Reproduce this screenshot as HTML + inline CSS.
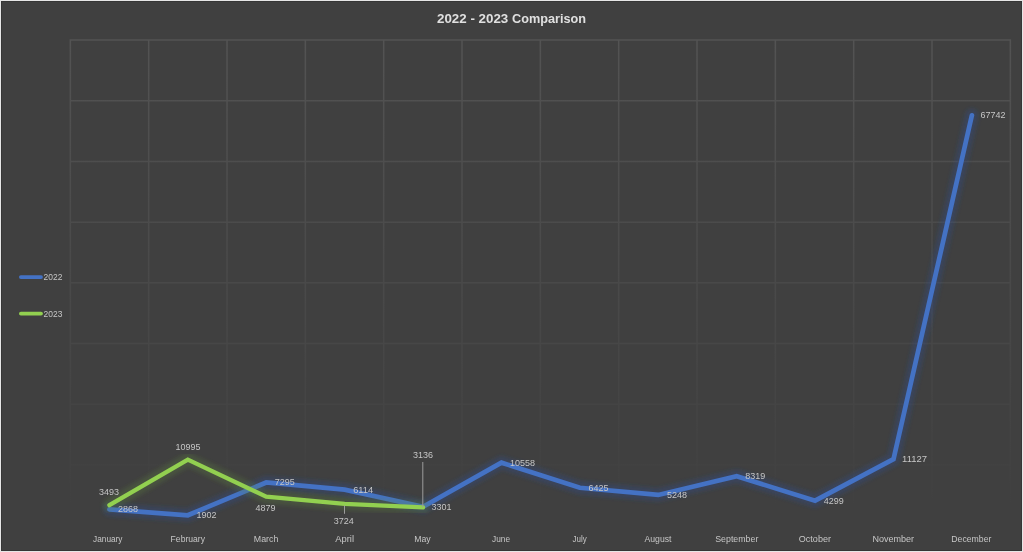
<!DOCTYPE html>
<html><head><meta charset="utf-8"><title>2022 - 2023 Comparison</title>
<style>
html,body{margin:0;padding:0;background:#404040;overflow:hidden}
body{width:1023px;height:552px;font-family:"Liberation Sans",sans-serif}
svg{display:block}
text{font-family:"Liberation Sans",sans-serif}
</style></head><body>
<svg width="1023" height="552" viewBox="0 0 1023 552">
<defs>
<linearGradient id="gv" gradientUnits="userSpaceOnUse" x1="0" y1="39" x2="0" y2="515"><stop offset="0" stop-color="#fff" stop-opacity="0.1"/><stop offset="1" stop-color="#fff" stop-opacity="0"/></linearGradient>
<filter id="bl" x="-10%" y="-10%" width="120%" height="120%" filterUnits="objectBoundingBox"><feGaussianBlur stdDeviation="1.9"/></filter>
</defs>
<rect x="0" y="0" width="1023" height="552" fill="#e6e6e6"/>
<rect x="1" y="1" width="1021" height="550" fill="#363636"/>
<rect x="2" y="2" width="1019" height="548" fill="#404040"/>
<path d="M70.35 40.05V515M148.68 40.05V515M227.02 40.05V515M305.35 40.05V515M383.68 40.05V515M462.01 40.05V515M540.35 40.05V515M618.68 40.05V515M697.01 40.05V515M775.35 40.05V515M853.68 40.05V515M932.01 40.05V515M1010.35 40.05V515M70.35 40.05H1010.35M70.35 100.75H1010.35M70.35 161.45H1010.35M70.35 222.15H1010.35M70.35 282.85H1010.35M70.35 343.55H1010.35M70.35 404.25H1010.35M70.35 464.95H1010.35" fill="none" stroke="url(#gv)" stroke-width="1.50" stroke-linecap="square"/>
<g transform="translate(0,1.3)">
<polyline points="109.40,508.08 187.81,513.95 266.22,481.18 344.63,488.36 423.04,505.45 501.45,461.36 579.86,486.47 658.27,493.62 736.68,474.96 815.09,499.38 893.50,457.90 971.91,113.97" fill="none" stroke="#2a4f96" stroke-opacity="0.32" stroke-width="13" stroke-linecap="round" stroke-linejoin="round" filter="url(#bl)"/>
<polyline points="109.40,508.08 187.81,513.95 266.22,481.18 344.63,488.36 423.04,505.45 501.45,461.36 579.86,486.47 658.27,493.62 736.68,474.96 815.09,499.38 893.50,457.90 971.91,113.97" fill="none" stroke="#4472c4" stroke-width="4.7" stroke-linecap="round" stroke-linejoin="miter"/>
</g>
<g transform="translate(0,0.9)">
<polyline points="109.40,504.28 187.81,458.71 266.22,495.86 344.63,502.88 423.04,506.45" fill="none" stroke="#618a3a" stroke-opacity="0.27" stroke-width="13" stroke-linecap="round" stroke-linejoin="round" filter="url(#bl)"/>
<polyline points="109.40,504.28 187.81,458.71 266.22,495.86 344.63,502.88 423.04,506.45" fill="none" stroke="#92d050" stroke-width="4.3" stroke-linecap="round" stroke-linejoin="miter"/>
</g>
<line x1="344.5" y1="505.5" x2="344.5" y2="513.8" stroke="#9c9c9c" stroke-width="1"/>
<line x1="422.8" y1="462" x2="422.8" y2="507" stroke="#9c9c9c" stroke-width="1"/>
<g opacity="0.999">
<text x="437.0" y="23.0" font-size="13.00" fill="#e0e0e0" text-anchor="start" textLength="71.3" lengthAdjust="spacingAndGlyphs" font-weight="bold">2022 - 2023</text>
<text x="512.0" y="23.0" font-size="13.00" fill="#e0e0e0" text-anchor="start" textLength="74.1" lengthAdjust="spacingAndGlyphs" font-weight="bold">Comparison</text>
<text x="118.0" y="512.3" font-size="9.40" fill="#c6c6c6" text-anchor="start" textLength="20.0" lengthAdjust="spacingAndGlyphs">2868</text>
<text x="196.4" y="518.1" font-size="9.40" fill="#c6c6c6" text-anchor="start" textLength="20.0" lengthAdjust="spacingAndGlyphs">1902</text>
<text x="274.8" y="485.4" font-size="9.40" fill="#c6c6c6" text-anchor="start" textLength="20.0" lengthAdjust="spacingAndGlyphs">7295</text>
<text x="353.2" y="492.6" font-size="9.40" fill="#c6c6c6" text-anchor="start" textLength="20.0" lengthAdjust="spacingAndGlyphs">6114</text>
<text x="431.6" y="509.6" font-size="9.40" fill="#c6c6c6" text-anchor="start" textLength="20.0" lengthAdjust="spacingAndGlyphs">3301</text>
<text x="510.0" y="465.6" font-size="9.40" fill="#c6c6c6" text-anchor="start" textLength="25.0" lengthAdjust="spacingAndGlyphs">10558</text>
<text x="588.5" y="490.7" font-size="9.40" fill="#c6c6c6" text-anchor="start" textLength="20.0" lengthAdjust="spacingAndGlyphs">6425</text>
<text x="666.9" y="497.8" font-size="9.40" fill="#c6c6c6" text-anchor="start" textLength="20.0" lengthAdjust="spacingAndGlyphs">5248</text>
<text x="745.3" y="479.2" font-size="9.40" fill="#c6c6c6" text-anchor="start" textLength="20.0" lengthAdjust="spacingAndGlyphs">8319</text>
<text x="823.7" y="503.6" font-size="9.40" fill="#c6c6c6" text-anchor="start" textLength="20.0" lengthAdjust="spacingAndGlyphs">4299</text>
<text x="902.1" y="462.1" font-size="9.40" fill="#c6c6c6" text-anchor="start" textLength="25.0" lengthAdjust="spacingAndGlyphs">11127</text>
<text x="980.5" y="118.2" font-size="9.40" fill="#c6c6c6" text-anchor="start" textLength="25.0" lengthAdjust="spacingAndGlyphs">67742</text>
<text x="99.0" y="495.1" font-size="9.40" fill="#c6c6c6" text-anchor="start" textLength="20.0" lengthAdjust="spacingAndGlyphs">3493</text>
<text x="175.6" y="450.1" font-size="9.40" fill="#c6c6c6" text-anchor="start" textLength="25.0" lengthAdjust="spacingAndGlyphs">10995</text>
<text x="255.4" y="510.7" font-size="9.40" fill="#c6c6c6" text-anchor="start" textLength="20.0" lengthAdjust="spacingAndGlyphs">4879</text>
<text x="333.7" y="524.4" font-size="9.40" fill="#c6c6c6" text-anchor="start" textLength="20.0" lengthAdjust="spacingAndGlyphs">3724</text>
<text x="413.0" y="458.1" font-size="9.40" fill="#c6c6c6" text-anchor="start" textLength="20.0" lengthAdjust="spacingAndGlyphs">3136</text>
<text x="93.1" y="541.6" font-size="8.60" fill="#c6c6c6" text-anchor="start" textLength="29.4" lengthAdjust="spacingAndGlyphs">January</text>
<text x="170.6" y="541.6" font-size="8.60" fill="#c6c6c6" text-anchor="start" textLength="34.4" lengthAdjust="spacingAndGlyphs">February</text>
<text x="253.8" y="541.6" font-size="8.60" fill="#c6c6c6" text-anchor="start" textLength="24.5" lengthAdjust="spacingAndGlyphs">March</text>
<text x="335.2" y="541.6" font-size="8.60" fill="#c6c6c6" text-anchor="start" textLength="18.8" lengthAdjust="spacingAndGlyphs">April</text>
<text x="414.2" y="541.6" font-size="8.60" fill="#c6c6c6" text-anchor="start" textLength="16.5" lengthAdjust="spacingAndGlyphs">May</text>
<text x="492.0" y="541.6" font-size="8.60" fill="#c6c6c6" text-anchor="start" textLength="18.0" lengthAdjust="spacingAndGlyphs">June</text>
<text x="572.5" y="541.6" font-size="8.60" fill="#c6c6c6" text-anchor="start" textLength="14.2" lengthAdjust="spacingAndGlyphs">July</text>
<text x="644.5" y="541.6" font-size="8.60" fill="#c6c6c6" text-anchor="start" textLength="27.0" lengthAdjust="spacingAndGlyphs">August</text>
<text x="715.2" y="541.6" font-size="8.60" fill="#c6c6c6" text-anchor="start" textLength="43.2" lengthAdjust="spacingAndGlyphs">September</text>
<text x="798.8" y="541.6" font-size="8.60" fill="#c6c6c6" text-anchor="start" textLength="32.2" lengthAdjust="spacingAndGlyphs">October</text>
<text x="872.4" y="541.6" font-size="8.60" fill="#c6c6c6" text-anchor="start" textLength="41.7" lengthAdjust="spacingAndGlyphs">November</text>
<text x="951.3" y="541.6" font-size="8.60" fill="#c6c6c6" text-anchor="start" textLength="40.1" lengthAdjust="spacingAndGlyphs">December</text>
<line x1="20.9" y1="277.1" x2="41" y2="277.1" stroke="#4472c4" stroke-width="3.8" stroke-linecap="round"/>
<line x1="20.9" y1="313.6" x2="41" y2="313.6" stroke="#92d050" stroke-width="3.8" stroke-linecap="round"/>
<text x="43.6" y="280.3" font-size="8.60" fill="#c6c6c6" text-anchor="start" textLength="18.8" lengthAdjust="spacingAndGlyphs">2022</text>
<text x="43.6" y="316.7" font-size="8.60" fill="#c6c6c6" text-anchor="start" textLength="18.8" lengthAdjust="spacingAndGlyphs">2023</text>
</g>
</svg>
</body></html>
